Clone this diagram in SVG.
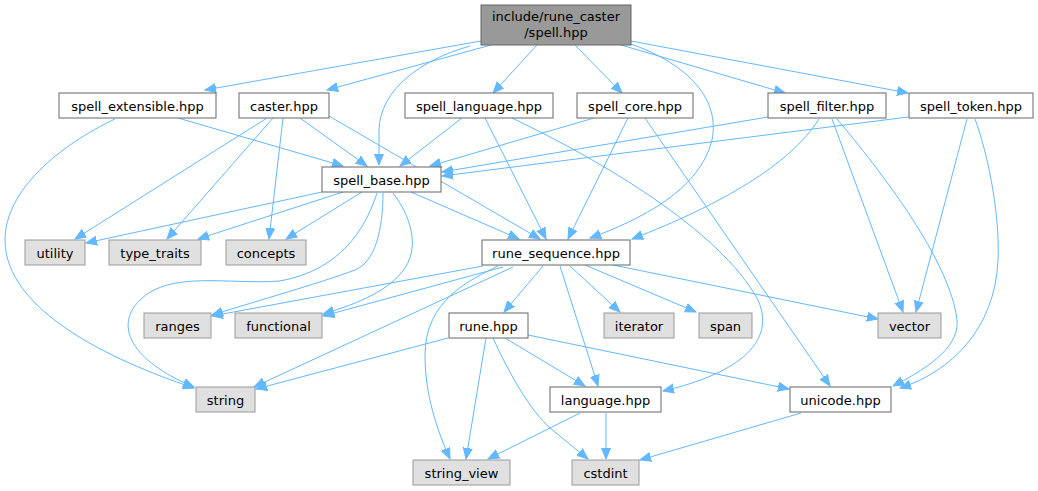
<svg xmlns="http://www.w3.org/2000/svg" width="1038" height="491" viewBox="0 0 1038 491">
<style>
.n rect{fill:#ffffff;stroke:#666666;stroke-width:1}
.s rect{fill:#e0e0e0;stroke:#999999;stroke-width:1}
.r rect{fill:#999999;stroke:#666666;stroke-width:1}
text{font-family:"DejaVu Sans","Liberation Sans",sans-serif;font-size:13px;fill:#000;text-anchor:middle}
#edges path{fill:none;stroke:#63b8ff;stroke-width:1;marker-end:url(#ah)}
</style>
<defs>
<marker id="ah" markerUnits="userSpaceOnUse" markerWidth="13" markerHeight="11" refX="11" refY="5" orient="auto">
<path d="M0,0.5 L11,5 L0,9.5 z" fill="#63b8ff" stroke="#63b8ff" stroke-width="1"/>
</marker>
</defs>
<rect width="1038" height="491" fill="#ffffff"/>
<g id="edges">
<path d="M481,41 L205,90"/>
<path d="M491,45 L327,90"/>
<path d="M470,46 C420,60 380,90 379,130 L379,165"/>
<path d="M537,45 L493,93"/>
<path d="M575,45 L622,93"/>
<path d="M631,44 C690,65 720,100 712,140 C700,190 640,220 590,238"/>
<path d="M621,45 L785,93"/>
<path d="M631,41 L908,93"/>
<path d="M115,119 C60,145 5,190 5,240 C5,310 110,360 194,388"/>
<path d="M178,118 L343,166"/>
<path d="M267,118 L75,239"/>
<path d="M273,118 L167,239"/>
<path d="M283,118 L269,239"/>
<path d="M300,118 L367,166"/>
<path d="M329,116 L540,239"/>
<path d="M462,118 L400,166"/>
<path d="M485,118 L546,239"/>
<path d="M512,118 C600,160 720,230 758,300 C780,350 720,378 663,391"/>
<path d="M594,118 L430,166"/>
<path d="M628,118 L568,239"/>
<path d="M645,118 L830,386"/>
<path d="M768,117 L442,172"/>
<path d="M819,119 C790,165 720,205 632,239"/>
<path d="M832,119 L903,312"/>
<path d="M837,119 C880,170 950,260 957,320 C960,350 920,372 893,386"/>
<path d="M908,117 L442,176"/>
<path d="M967,119 L916,312"/>
<path d="M975,119 C990,160 1000,220 998,260 C995,330 950,372 900,388"/>
<path d="M322,192 L86,243"/>
<path d="M343,192 L198,239"/>
<path d="M362,192 L286,239"/>
<path d="M377,193 C365,230 340,270 280,281 C230,285 170,270 140,300 C110,330 140,365 194,387"/>
<path d="M383,193 C383,230 375,262 355,270 C320,283 260,300 212,315"/>
<path d="M393,193 C410,215 420,245 405,268 C390,290 360,303 323,314"/>
<path d="M411,192 L519,239"/>
<path d="M483,266 L212,316"/>
<path d="M503,267 L323,316"/>
<path d="M513,267 L254,387"/>
<path d="M498,266 C470,280 425,300 425,355 C425,395 437,430 450,459"/>
<path d="M543,266 L504,312"/>
<path d="M560,266 L598,386"/>
<path d="M570,266 L620,312"/>
<path d="M585,265 L696,312"/>
<path d="M613,265 L878,319"/>
<path d="M448,338 L256,389"/>
<path d="M486,338 L466,459"/>
<path d="M493,338 C510,375 530,410 550,428 L588,459"/>
<path d="M505,338 L585,386"/>
<path d="M528,335 L789,389"/>
<path d="M580,413 L488,459"/>
<path d="M606,413 L606,459"/>
<path d="M801,413 L640,460"/>
</g>
<g id="spell" class="r"><rect x="481" y="5" width="150" height="40"/><text x="556" y="21">include/rune_caster</text><text x="556" y="36.5">/spell.hpp</text></g>
<g id="spell_extensible" class="n"><rect x="59" y="93" width="157" height="25"/><text x="137.5" y="110.5">spell_extensible.hpp</text></g>
<g id="caster" class="n"><rect x="239" y="93" width="90" height="25"/><text x="284" y="110.5">caster.hpp</text></g>
<g id="spell_language" class="n"><rect x="405" y="93" width="148" height="25"/><text x="479" y="110.5">spell_language.hpp</text></g>
<g id="spell_core" class="n"><rect x="577" y="93" width="116" height="25"/><text x="635" y="110.5">spell_core.hpp</text></g>
<g id="spell_filter" class="n"><rect x="768" y="93" width="118" height="25"/><text x="827" y="110.5">spell_filter.hpp</text></g>
<g id="spell_token" class="n"><rect x="909" y="93" width="124" height="25"/><text x="971" y="110.5">spell_token.hpp</text></g>
<g id="spell_base" class="n"><rect x="322" y="167" width="119" height="25"/><text x="381.5" y="184.5">spell_base.hpp</text></g>
<g id="rune_sequence" class="n"><rect x="482" y="240" width="148" height="25"/><text x="556" y="257.5">rune_sequence.hpp</text></g>
<g id="utility" class="s"><rect x="25" y="240" width="60" height="25"/><text x="55" y="257.5">utility</text></g>
<g id="type_traits" class="s"><rect x="109" y="240" width="92" height="25"/><text x="155" y="257.5">type_traits</text></g>
<g id="concepts" class="s"><rect x="226" y="240" width="80" height="25"/><text x="266" y="257.5">concepts</text></g>
<g id="ranges" class="s"><rect x="144" y="313" width="67" height="25"/><text x="177.5" y="330.5">ranges</text></g>
<g id="functional" class="s"><rect x="235" y="313" width="87" height="25"/><text x="278.5" y="330.5">functional</text></g>
<g id="rune" class="n"><rect x="449" y="313" width="79" height="25"/><text x="488.5" y="330.5">rune.hpp</text></g>
<g id="iterator" class="s"><rect x="604" y="313" width="70" height="25"/><text x="639" y="330.5">iterator</text></g>
<g id="span" class="s"><rect x="699" y="313" width="53" height="25"/><text x="725.5" y="330.5">span</text></g>
<g id="vector" class="s"><rect x="878" y="313" width="63" height="25"/><text x="909.5" y="330.5">vector</text></g>
<g id="string" class="s"><rect x="196" y="387" width="59" height="25"/><text x="225.5" y="404.5">string</text></g>
<g id="language" class="n"><rect x="550" y="387" width="111" height="25"/><text x="605.5" y="404.5">language.hpp</text></g>
<g id="unicode" class="n"><rect x="790" y="387" width="101" height="25"/><text x="840.5" y="404.5">unicode.hpp</text></g>
<g id="string_view" class="s"><rect x="413" y="460" width="97" height="25"/><text x="461.5" y="477.5">string_view</text></g>
<g id="cstdint" class="s"><rect x="572" y="460" width="67" height="25"/><text x="605.5" y="477.5">cstdint</text></g>
</svg>
